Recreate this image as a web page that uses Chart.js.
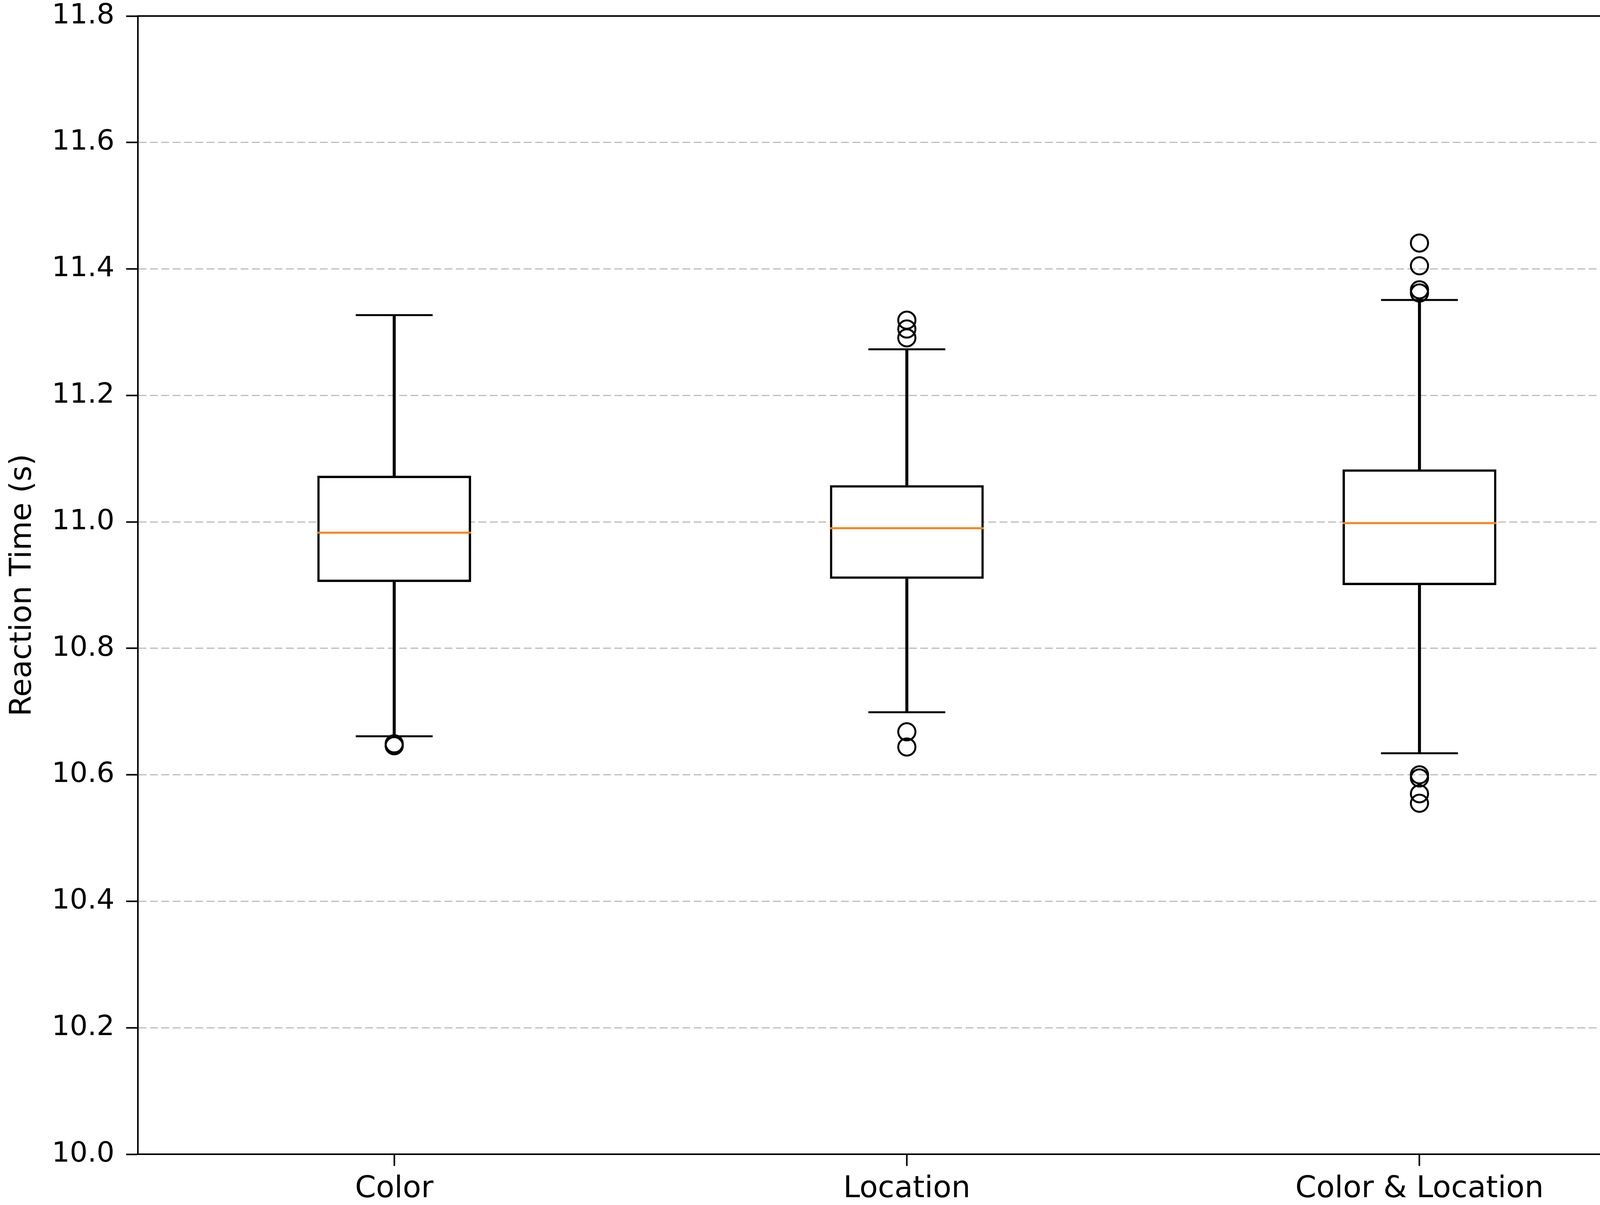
<!DOCTYPE html>
<html>
<head>
<meta charset="utf-8">
<script src="https://cdn.jsdelivr.net/npm/chart.js@4.4.1/dist/chart.umd.min.js"></script>
<style>
  html, body { margin: 0; padding: 0; background: #fff; overflow: hidden; }
  #wrap { width: 4317px; height: 3085px; }
  canvas { display: block; }
</style>
</head>
<body>
<div id="wrap"><canvas id="boxChart" width="4317" height="3085"></canvas></div>
<script>
// Boxplot summary values
const categories = ['Color', 'Location', 'Color & Location'];
const q1 = [10.905, 10.910, 10.900];
const q3 = [11.073, 11.058, 11.083];
const medians = [10.983, 10.990, 10.998];
const whiskerLow = [10.661, 10.699, 10.634];
const whiskerHigh = [11.327, 11.273, 11.351];
const fliers = [
  [10.649, 10.646],
  [11.319, 11.305, 11.291, 10.668, 10.644],
  [11.441, 11.405, 11.367, 11.362, 10.600, 10.595, 10.570, 10.555]
];
const yTicks = { min: 10.0, max: 11.8, step: 0.2 };

const BOX_FRAC = 0.3;

function boxHalfWidth(ctx) {
  const x = ctx.chart.scales.x;
  return x.width / categories.length * BOX_FRAC / 2;
}

const flierPoints = [];
fliers.forEach((vals, i) => vals.forEach(v => flierPoints.push({ x: categories[i], y: v })));

const frame = {
  id: 'frame',
  afterDraw(chart) {
    const a = chart.chartArea, c = chart.ctx;
    c.save();
    c.strokeStyle = '#000';
    c.lineWidth = 4;
    c.strokeRect(a.left, a.top, a.right - a.left, a.bottom - a.top);
    c.restore();
  }
};

new Chart(document.getElementById('boxChart').getContext('2d'), {
  data: {
    labels: categories,
    datasets: [
      {
        type: 'bar', label: 'box', order: 3, grouped: false,
        data: categories.map((c, i) => [q1[i], q3[i]]),
        backgroundColor: '#ffffff', borderColor: '#000000', borderWidth: 6,
        borderSkipped: false, barPercentage: BOX_FRAC, categoryPercentage: 1
      },
      {
        type: 'bar', label: 'whisker low', order: 4, grouped: false,
        data: categories.map((c, i) => [whiskerLow[i], q1[i]]),
        backgroundColor: '#000000', barThickness: 7
      },
      {
        type: 'bar', label: 'whisker high', order: 4, grouped: false,
        data: categories.map((c, i) => [q3[i], whiskerHigh[i]]),
        backgroundColor: '#000000', barThickness: 7
      },
      {
        type: 'line', label: 'caps', order: 2, showLine: false,
        data: categories.map((c, i) => ({ x: c, y: whiskerLow[i] }))
          .concat(categories.map((c, i) => ({ x: c, y: whiskerHigh[i] }))),
        pointStyle: 'line', borderColor: '#000000', pointBorderWidth: 5,
        pointRadius: ctx => boxHalfWidth(ctx) / 2
      },
      {
        type: 'line', label: 'median', order: 1, showLine: false,
        data: categories.map((c, i) => ({ x: c, y: medians[i] })),
        pointStyle: 'line', borderColor: '#ff7f0e', pointBorderWidth: 5,
        pointRadius: ctx => boxHalfWidth(ctx)
      },
      {
        type: 'line', label: 'fliers', order: 0, showLine: false,
        data: flierPoints,
        pointStyle: 'circle', pointRadius: 22, pointBorderWidth: 5,
        pointBackgroundColor: 'rgba(255,255,255,0)', pointBorderColor: '#000000'
      }
    ]
  },
  options: {
    responsive: false,
    animation: false,
    events: [],
    layout: { padding: { top: 41, right: 15, left: 0, bottom: 0 } },
    plugins: { legend: { display: false }, tooltip: { enabled: false } },
    scales: {
      x: {
        type: 'category',
        offset: true,
        grid: { drawOnChartArea: false, drawTicks: true, tickLength: 30, tickColor: '#000', tickWidth: 4, offset: false },
        border: { display: true, color: '#000', width: 4 },
        ticks: { color: '#000', padding: 14, font: { family: 'DejaVu Sans', size: 77 } },
        afterFit: s => { s.height = 130; s.paddingLeft = 0; s.paddingRight = 0; }
      },
      y: {
        min: yTicks.min, max: yTicks.max,
        grid: { color: '#bdbdbd', lineWidth: 3, tickLength: 30, tickColor: '#000', tickWidth: 4, tickBorderDash: [] },
        border: { display: true, color: '#000', width: 4, dash: [20, 9] },
        ticks: {
          stepSize: yTicks.step, color: '#000', padding: 30,
          font: { family: 'DejaVu Sans', size: 72 },
          callback: v => v.toFixed(1)
        },
        title: { display: true, text: 'Reaction Time (s)', color: '#000', padding: { top: 13, bottom: 0 }, font: { family: 'DejaVu Sans', size: 77 } },
        afterFit: s => { s.width = 353; s.paddingTop = 0; s.paddingBottom = 0; }
      }
    }
  },
  plugins: [frame]
});
</script>
</body>
</html>
